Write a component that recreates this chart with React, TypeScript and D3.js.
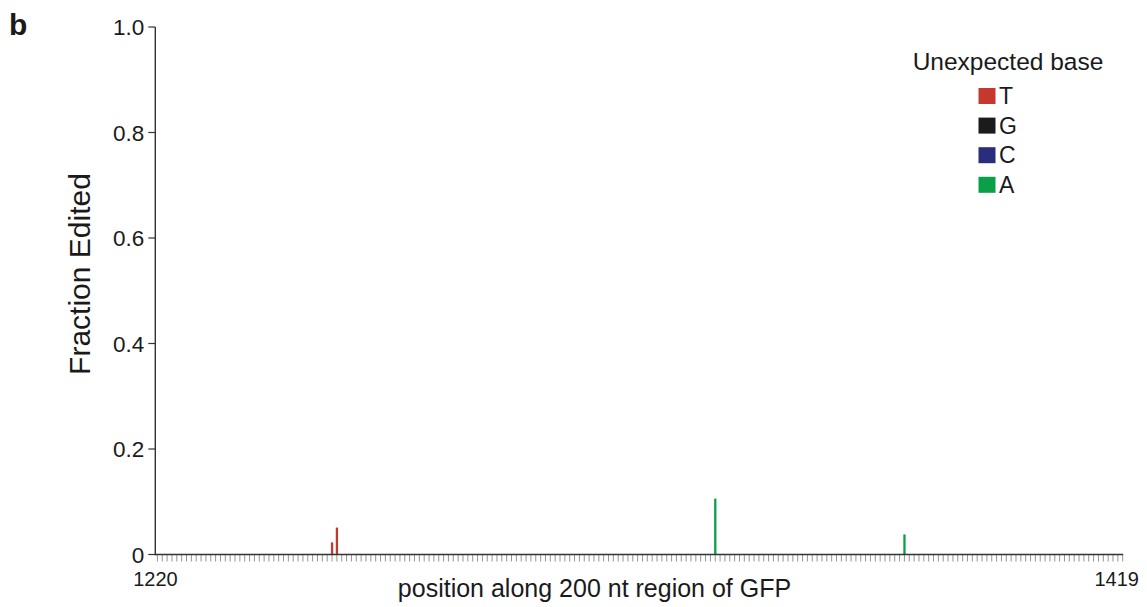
import React from "react";
import * as d3 from "d3";

const positions = [1256, 1257, 1335, 1374];
const fractions = [0.023, 0.051, 0.106, 0.038];
const editBases = ["T", "T", "A", "A"];

const legendBases = ["T", "G", "C", "A"];
const baseColors = ["#c4382d", "#1b1b1b", "#2a2c7c", "#0aa04a"];

const yTicks = [0, 0.2, 0.4, 0.6, 0.8, 1.0];
const yTickLabels = ["0", "0.2", "0.4", "0.6", "0.8", "1.0"];
const xStart = 1220;
const xEnd = 1419;
const xLabeledTicks = [1220, 1419];

const FONT = "'Liberation Sans', Arial, Helvetica, sans-serif";

export default function App() {
  const W = 1147;
  const H = 607;
  const axisX = 155.3;
  const axisY = 554.5;
  const x = d3.scaleLinear().domain([xStart, xEnd]).range([157.4, 1122.7]);
  const y = d3.scaleLinear().domain([0, 1]).range([axisY, 27]);
  const color = d3.scaleOrdinal<string, string>().domain(legendBases).range(baseColors);
  const allTicks = d3.range(xStart, xEnd + 1);

  return (
    <svg
      width={W}
      height={H}
      style={{ position: "absolute", left: 0, top: 0, background: "#fff" }}
      fontFamily={FONT}
    >
      <text x={9} y={35} fontSize={30} fontWeight="bold" fill="#1a1a1a">
        b
      </text>

      {/* bars */}
      {positions.map((p, i) => (
        <rect
          key={i}
          x={x(p) - 1.1}
          width={2.3}
          y={y(fractions[i])}
          height={axisY - y(fractions[i])}
          fill={color(editBases[i])}
        />
      ))}

      {/* x ticks */}
      {allTicks.map((t) => (
        <line
          key={t}
          x1={x(t)}
          x2={x(t)}
          y1={axisY}
          y2={axisY + 7}
          stroke="#888"
          strokeWidth={0.9}
        />
      ))}
      {xLabeledTicks.map((t, i) => (
        <text
          key={t}
          x={i === 0 ? x(t) - 2 : x(t) - 6}
          y={586}
          fontSize={20}
          textAnchor="middle"
          fill="#1a1a1a"
        >
          {t}
        </text>
      ))}

      {/* axes */}
      <line x1={axisX} x2={axisX} y1={y(1)} y2={axisY + 0.7} stroke="#333" strokeWidth={1.4} />
      <line x1={axisX} x2={x(xEnd) + 0.5} y1={axisY} y2={axisY} stroke="#333" strokeWidth={1.4} />
      {yTicks.map((t, i) => (
        <g key={t}>
          <line x1={axisX - 7} x2={axisX} y1={y(t)} y2={y(t)} stroke="#333" strokeWidth={1.2} />
          <text
            x={axisX - 11}
            y={y(t)}
            dy="0.36em"
            fontSize={22.5}
            textAnchor="end"
            fill="#1a1a1a"
          >
            {yTickLabels[i]}
          </text>
        </g>
      ))}

      {/* axis titles */}
      <text
        transform={`translate(90, 274) rotate(-90)`}
        fontSize={30}
        textAnchor="middle"
        fill="#1a1a1a"
      >
        Fraction Edited
      </text>
      <text x={594.5} y={597} fontSize={25} textAnchor="middle" fill="#1a1a1a">
        position along 200 nt region of GFP
      </text>

      {/* legend */}
      <text x={1008} y={70} fontSize={24.5} textAnchor="middle" fill="#1a1a1a">
        Unexpected base
      </text>
      {legendBases.map((b, i) => {
        const cy = 96 + i * 29.6;
        return (
          <g key={b}>
            <rect x={978.5} y={cy - 8} width={17} height={16} fill={color(b)} />
            <text x={999} y={cy} dy="0.36em" fontSize={23} fill="#1a1a1a">
              {b}
            </text>
          </g>
        );
      })}
    </svg>
  );
}
